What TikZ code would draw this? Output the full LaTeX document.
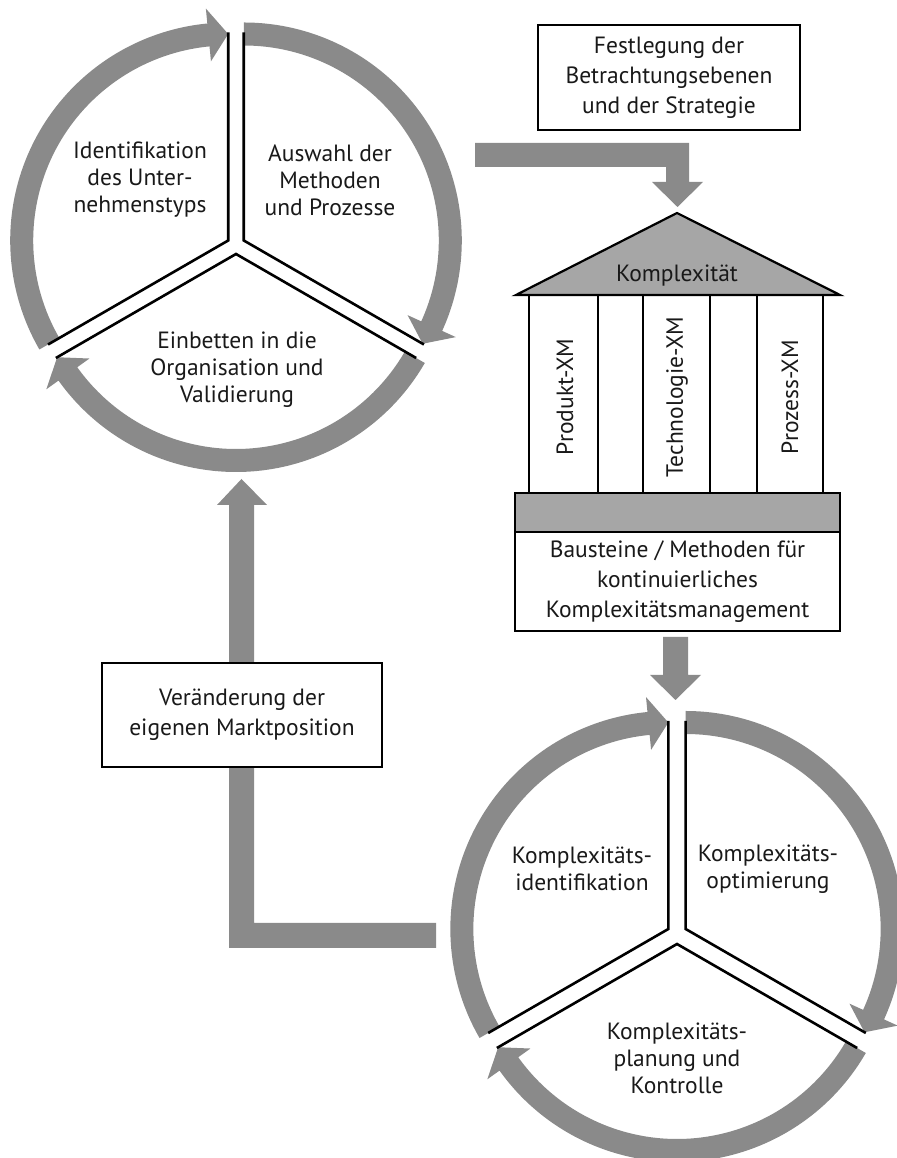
\documentclass[tikz,border=0pt]{standalone}
\usepackage{fontspec}
\setmainfont{PT Sans}
\usetikzlibrary{calc}
\definecolor{arrgray}{RGB}{138,138,138}
\definecolor{roofgray}{RGB}{166,166,166}
\definecolor{txt}{RGB}{25,25,25}
\newcommand{\cyclearrow}[3]{%
  \pgfmathsetmacro{\hbase}{#3+5.5}%
  \fill[arrgray] ($(#1)+(#2:218bp)$) arc[start angle=#2, end angle=\hbase, radius=218bp]
    -- ($(#1)+(\hbase:233bp)$) -- ($(#1)+(#3:206.5bp)$) -- ($(#1)+(\hbase:180bp)$)
    -- ($(#1)+(\hbase:195bp)$) arc[start angle=\hbase, end angle=#2, radius=195bp] -- cycle;
}
\newcommand{\sectoredges}[3]{%
  \draw[blk] ($(#1)+(#2:208bp)$) -- (#1) -- ($(#1)+(#3:208bp)$);
}
\begin{document}
\begin{tikzpicture}[x=1bp,y=1bp,
  lbl/.style={align=center, text=txt, font=\fontsize{23.5bp}{27bp}\selectfont, inner sep=0pt},
  boxlbl/.style={align=center, text=txt, font=\fontsize{23.5bp}{30bp}\selectfont, inner sep=0pt},
  blk/.style={line width=2.6bp, black, line join=miter, line cap=butt},
  frame/.style={draw=black, line width=2.2bp, fill=white},
  blockarrow/.style={fill=arrgray}]
\useasboundingbox (0,0) rectangle (897,1158);
\begin{scope}
\clip (0,0) rectangle (897,1158);
% ---------- top cycle ----------
\coordinate (T) at (236,913);
\coordinate (TA) at ($(T)+(150:9bp)$);
\coordinate (TB) at ($(T)+(30:9bp)$);
\coordinate (TC) at ($(T)+(270:9bp)$);
\cyclearrow{TA}{210}{90}
\cyclearrow{TB}{90}{-30}
\cyclearrow{TC}{-30}{-150}
\sectoredges{TA}{90}{210}
\sectoredges{TB}{90}{-30}
\sectoredges{TC}{210}{330}
\node[lbl] (tA) at (140,978) {Identifikation\\des Unter-\\nehmenstyps};
\node[lbl] (tB) at (330,978) {Auswahl der\\Methoden\\und Prozesse};
\node[lbl] (tC) at (237,788) {Einbetten in die\\Organisation und\\Validierung};
% ---------- bottom cycle ----------
\coordinate (B) at (677,224);
\coordinate (BA) at ($(B)+(150:10bp)$);
\coordinate (BB) at ($(B)+(30:10bp)$);
\coordinate (BC) at ($(B)+(270:10bp)$);
\cyclearrow{BA}{210}{90}
\cyclearrow{BB}{90}{-30}
\cyclearrow{BC}{-30}{-150}
\sectoredges{BA}{90}{210}
\sectoredges{BB}{90}{-30}
\sectoredges{BC}{210}{330}
\node[lbl] (bA) at (582,289) {Komplexitäts-\\identifikation};
\node[lbl] (bB) at (768,289) {Komplexitäts-\\optimierung};
\node[lbl] (bC) at (677,100) {Komplexitäts-\\planung und\\Kontrolle};
% ---------- block arrows ----------
\coordinate (a1t) at (677.5,951);
\fill[blockarrow] (475,1015) -- (689,1015) -- (689,976) -- (703,976) -- (a1t)
  -- (652,976) -- (666,976) -- (666,991) -- (475,991) -- cycle;
\coordinate (a2t) at (675.5,458);
\fill[blockarrow] (663,521) -- (688,521) -- (688,483) -- (701,483) -- (a2t)
  -- (650,483) -- (663,483) -- cycle;
\coordinate (a3t) at (241.5,679);
\fill[blockarrow] (436,235) -- (254,235) -- (254,653) -- (267,653) -- (a3t)
  -- (217,653) -- (229,653) -- (229,210) -- (436,210) -- cycle;
% ---------- boxes ----------
\node[frame, minimum width=262bp, minimum height=105bp] (fest) at (669,1080.5) {};
\node[boxlbl] (festt) at (fest.center) {Festlegung der\\Betrachtungsebenen\\und der Strategie};
\node[frame, minimum width=280bp, minimum height=104bp] (markt) at (242,443) {};
\node[boxlbl] (marktt) at (markt.center) {Veränderung der\\eigenen Marktposition};
% ---------- temple ----------
\coordinate (rl) at (516,863);
\coordinate (rt) at (677,945);
\coordinate (rr) at (840,863);
\draw[line width=2.2bp, fill=roofgray, line join=miter] (rl) -- (rt) -- (rr) -- cycle;
\node[lbl] (roof) at (677,882) {Komplexität};
\foreach \x in {529,598,643,710,757,823}
  \draw[line width=2.2bp] (\x,863) -- (\x,665);
\draw[line width=2.2bp, fill=roofgray] (515,665) rectangle (840,626);
\node[frame, minimum width=325bp, minimum height=99bp] (base) at (677.5,576.5) {};
\node[boxlbl] (baset) at (base.center) {Bausteine / Methoden für\\kontinuierliches\\Komplexitätsmanagement};
\node[lbl, rotate=90] (c1) at (565,761) {Produkt-XM};
\node[lbl, rotate=90] (c2) at (677,761) {Technologie-XM};
\node[lbl, rotate=90] (c3) at (790,761) {Prozess-XM};
\end{scope}
\end{tikzpicture}
\end{document}
